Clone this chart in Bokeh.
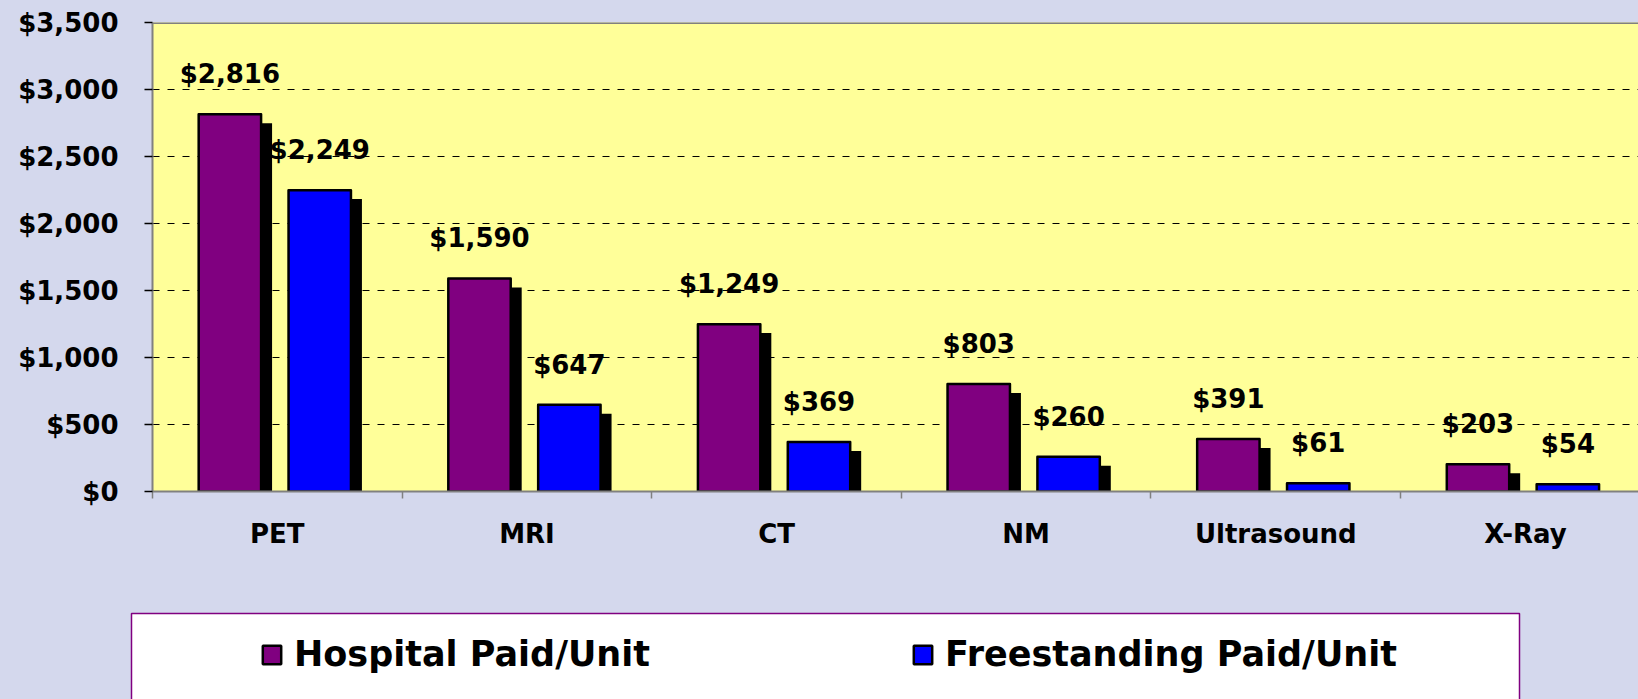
import numpy as np
from bokeh.plotting import figure
from bokeh.layouts import column
from bokeh.models import (Range1d, FixedTicker, NumeralTickFormatter, Span, Legend,
                          LegendItem, BoxAnnotation, ColumnDataSource)
from bokeh.core.properties import value
from bokeh.embed import file_html
from bokeh.resources import INLINE

# ---- data ----
categories = ["PET", "MRI", "CT", "NM", "Ultrasound", "X-Ray"]
hospital = [2816, 1590, 1249, 803, 391, 203]
freestanding = [2249, 647, 369, 260, 61, 54]
y_ticks = [0, 500, 1000, 1500, 2000, 2500, 3000, 3500]
series_names = ["Hospital Paid/Unit", "Freestanding Paid/Unit"]

# ---- styles ----
FONT = "DejaVu Sans"
BG = "#D4D8ED"
PLOT_BG = "#FFFF99"
PURPLE = "#800080"
BLUE = "#0000FF"
GRAY = "#808080"

idx = np.arange(len(categories))
x_h = idx + 0.31
x_f = idx + 0.67
bar_w = 0.25
shadow_dx = 0.044
shadow_dy = 67

hosp = np.array(hospital)
free = np.array(freestanding)

src = ColumnDataSource(dict(
    x_h=x_h, x_f=x_f, hosp=hosp, free=free,
    xs_h=x_h + shadow_dx, xs_f=x_f + shadow_dx,
    sh_h=np.maximum(hosp - shadow_dy, 0), sh_f=np.maximum(free - shadow_dy, 0),
    lab_h=[f"${v:,}" for v in hospital], lab_f=[f"${v:,}" for v in freestanding],
))

# ================= main chart =================
p = figure(width=1638, height=560, output_backend="svg", toolbar_location=None,
           x_range=Range1d(0, 5.953), y_range=Range1d(0, 3500),
           min_border_left=152, min_border_right=0, min_border_top=22,
           min_border_bottom=69,
           background_fill_color=PLOT_BG, border_fill_color=BG,
           outline_line_color=None)
p.frame_align = False

# grid
p.xgrid.visible = False
p.ygrid.ticker = FixedTicker(ticks=y_ticks)
p.ygrid.grid_line_color = "black"
p.ygrid.grid_line_dash = "7 8"
p.ygrid.grid_line_width = 1

# shadows
p.vbar(x="xs_h", top="sh_h", bottom=0, width=bar_w, source=src,
       fill_color="black", line_color=None)
p.vbar(x="xs_f", top="sh_f", bottom=0, width=bar_w, source=src,
       fill_color="black", line_color=None)

# bars
r_h = p.vbar(x="x_h", top="hosp", bottom=0, width=bar_w, source=src,
             fill_color=PURPLE, line_color="black", line_width=2.5, line_join="round")
r_f = p.vbar(x="x_f", top="free", bottom=0, width=bar_w, source=src,
             fill_color=BLUE, line_color="black", line_width=2.5, line_join="round")

# value labels
for xcol, ycol, tcol in [("x_h", "hosp", "lab_h"), ("x_f", "free", "lab_f")]:
    p.text(x=xcol, y=ycol, text=tcol, source=src, y_offset=-40,
           text_align="center", text_baseline="alphabetic",
           text_font=value(FONT), text_font_style="bold",
           text_font_size="26px", text_color="black")

# top border of plot area
p.add_layout(Span(location=3500, dimension="width", line_color=GRAY, line_width=3))

# axes
xa = p.xaxis[0]
xa.ticker = FixedTicker(ticks=list(idx + 0.5), minor_ticks=list(range(len(categories) + 1)))
xa.major_label_overrides = {float(i + 0.5): c for i, c in enumerate(categories)}
xa.major_tick_line_color = None
xa.major_tick_out = 7
xa.major_tick_in = 0
xa.minor_tick_out = 7
xa.minor_tick_in = 0
xa.minor_tick_line_color = GRAY
xa.minor_tick_line_width = 1.5
xa.axis_line_color = GRAY
xa.axis_line_width = 2
xa.major_label_standoff = 20
xa.major_label_text_font = FONT
xa.major_label_text_font_style = "bold"
xa.major_label_text_font_size = "26px"
xa.major_label_text_color = "black"

ya = p.yaxis[0]
ya.ticker = FixedTicker(ticks=y_ticks)
ya.formatter = NumeralTickFormatter(format="$0,0")
ya.major_tick_out = 8
ya.major_tick_in = 0
ya.major_tick_line_color = "black"
ya.major_tick_line_width = 1.5
ya.minor_tick_line_color = None
ya.axis_line_color = GRAY
ya.axis_line_width = 2
ya.major_label_standoff = 26
ya.major_label_text_font = FONT
ya.major_label_text_font_style = "bold"
ya.major_label_text_font_size = "26px"
ya.major_label_text_color = "black"

# ================= legend strip =================
p2 = figure(width=1638, height=139, output_backend="svg", toolbar_location=None,
            x_range=Range1d(0, 1638), y_range=Range1d(699, 560),
            x_axis_type=None, y_axis_type=None, min_border=0,
            background_fill_color=BG, border_fill_color=BG,
            outline_line_color=None)
p2.frame_align = False

box = BoxAnnotation(left=131, right=1519, top=613, bottom=720,
                    fill_color="white", fill_alpha=1.0,
                    line_color=PURPLE, line_alpha=1.0, line_width=1.5)
p2.add_layout(box)

# hidden copies of the series, used only for the legend swatches
lg_h = p2.vbar(x="x_h", top="hosp", bottom=0, width=bar_w, source=src,
               fill_color=PURPLE, line_color="black", line_width=2.5, visible=False)
lg_f = p2.vbar(x="x_f", top="free", bottom=0, width=bar_w, source=src,
               fill_color=BLUE, line_color="black", line_width=2.5, visible=False)

legend = Legend(items=[LegendItem(label=series_names[0], renderers=[lg_h]),
                       LegendItem(label=series_names[1], renderers=[lg_f])],
                orientation="horizontal", location=(260, 25),
                padding=0, spacing=17, margin=0,
                glyph_width=23, glyph_height=23, label_standoff=11,
                label_width=600, label_height=40,
                border_line_color=None, background_fill_alpha=0,
                label_text_font=FONT, label_text_font_style="bold",
                label_text_font_size="35px", label_text_color="black")
p2.add_layout(legend, "center")

layout = column(p, p2, spacing=0, styles={"background-color": BG})

open("out.html", "w").write(file_html(layout, INLINE))
